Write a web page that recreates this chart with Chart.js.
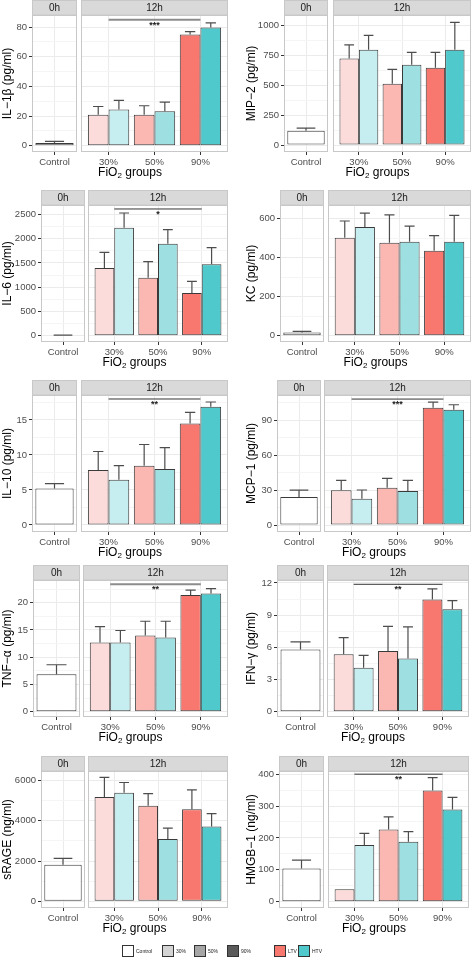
<!DOCTYPE html>
<html lang="en">
<head>
<meta charset="UTF-8" />
<title>Lung mediators by FiO2 group</title>
<script src="https://cdn.jsdelivr.net/npm/chart.js"></script>
<style>
  body { margin: 0; background: #fff; font-family: "Liberation Sans", Arial, sans-serif; }
  #fig { position: relative; width: 472px; height: 959px; overflow: hidden; }
  #fig canvas { position: absolute; }
  .xtitle { position: absolute; font-size: 12px; line-height: 14px; color: #000; white-space: nowrap; transform: translateX(-50%); }
  .xtitle sub { font-size: 8px; line-height: 0; vertical-align: -2px; }
  .key { position: absolute; top: 945px; width: 10px; height: 10px; border: 1px solid #333; }
  .keytxt { position: absolute; top: 945px; font-size: 5px; line-height: 12px; color: #1a1a1a; white-space: nowrap; }
</style>
</head>
<body>
<div id="fig"></div>
<script>
// ---- data ----
const ctrlLabel = ["Control"];
const groups = ["30%", "50%", "90%"];
const legendLabels = ["Control", "30%", "50%", "90%", "LTV", "HTV"];

// IL-1β (pg/ml)
const il1bCtrl = [1.8], il1bCtrlUp = [2.9];
const il1bLTV = [21, 21, 75], il1bLTVUp = [26.5, 27, 77];
const il1bHTV = [24.5, 23.2, 79.8], il1bHTVUp = [30.6, 29.5, 82.9];
const il1bTicks = [0, 20, 40, 60, 80];

// MIP-2 (pg/ml)
const mip2Ctrl = [119], mip2CtrlUp = [141];
const mip2LTV = [723, 512, 645], mip2LTVUp = [836, 632, 774];
const mip2HTV = [795, 670, 795], mip2HTVUp = [916, 774, 1024];
const mip2Ticks = [0, 250, 500, 750, 1000];

// IL-6 (pg/ml)
const il6Ctrl = [8], il6CtrlUp = [12];
const il6LTV = [1395, 1195, 880], il6LTVUp = [1718, 1525, 1120];
const il6HTV = [2225, 1896, 1471], il6HTVUp = [2528, 2184, 1813];
const il6Ticks = [0, 500, 1000, 1500, 2000, 2500];

// KC (pg/ml)
const kcCtrl = [17], kcCtrlUp = [22];
const kcLTV = [502, 477, 435], kcLTVUp = [588, 619, 513];
const kcHTV = [557, 482, 482], kcHTVUp = [628, 562, 617];
const kcTicks = [0, 200, 400, 600];

// IL-10 (pg/ml)
const il10Ctrl = [5.2], il10CtrlUp = [5.9];
const il10LTV = [7.86, 8.48, 14.5], il10LTVUp = [10.5, 11.5, 16.1];
const il10HTV = [6.48, 8.0, 16.9], il10HTVUp = [8.48, 11.05, 17.57];
const il10Ticks = [0, 5, 10, 15];

// MCP-1 (pg/ml)
const mcp1Ctrl = [24], mcp1CtrlUp = [30];
const mcp1LTV = [29.8, 32.1, 100.9], mcp1LTVUp = [38.4, 40.1, 105.7];
const mcp1HTV = [22.6, 29.2, 99.1], mcp1HTVUp = [30.1, 38.4, 103.4];
const mcp1Ticks = [0, 30, 60, 90];

// TNF-α (pg/ml)
const tnfCtrl = [6.86], tnfCtrlUp = [8.62];
const tnfLTV = [12.7, 14.0, 21.4], tnfLTVUp = [15.6, 16.6, 22.3];
const tnfHTV = [12.7, 13.6, 21.7], tnfHTVUp = [14.9, 16.6, 22.6];
const tnfTicks = [0, 5, 10, 15, 20];

// IFN-γ (pg/ml)
const ifnCtrl = [5.8], ifnCtrlUp = [6.5];
const ifnLTV = [5.35, 5.66, 10.45], ifnLTVUp = [6.9, 7.95, 11.45];
const ifnHTV = [4.1, 4.95, 9.55], ifnHTVUp = [5.25, 7.9, 10.35];
const ifnTicks = [0, 3, 6, 9, 12];

// sRAGE (ng/ml)
const srageCtrl = [1820], srageCtrlUp = [2135];
const srageLTV = [5185, 4750, 4570], srageLTVUp = [6150, 5350, 5535];
const srageHTV = [5385, 3100, 3720], srageHTVUp = [5900, 3635, 4350];
const srageTicks = [0, 2000, 4000, 6000];

// HMGB-1 (ng/ml)
const hmgbCtrl = [104], hmgbCtrlUp = [130];
const hmgbLTV = [39, 226, 349], hmgbLTVUp = [null, 266, 389];
const hmgbHTV = [178, 188, 289], hmgbHTVUp = [214, 220, 327];
const hmgbTicks = [0, 100, 200, 300, 400];

// ---- styling ----
const ltvColors = ["#FCDCDA", "#FBB8B3", "#F8786F"];
const htvColors = ["#C6EEF0", "#9EE0E2", "#4FC9CB"];
const legendColors = ["#FFFFFF", "#D4D4D4", "#A6A6A6", "#5A5A5A", "#F8786F", "#4FC9CB"];
const legendX = [122, 162, 194, 227, 274, 298];

const rowTop = [15, 205, 395, 580, 771];
const PLOT_H = 137, STRIP_H = 15, AXIS_H = 15;

// layout of each panel: facet edges in page pixels
const panels = [
  { title: "IL−1β (pg/ml)", row: 0, ox: 0, f0: [32, 77], f1: [81, 228], min: -4.2, max: 88.2, ticks: il1bTicks,
    ctrl: il1bCtrl, ctrlUp: il1bCtrlUp, ltv: il1bLTV, ltvUp: il1bLTVUp, htv: il1bHTV, htvUp: il1bHTVUp,
    sig: { y: 85, text: "***", color: "#8C8C8C", width: 2 } },
  { title: "MIP−2 (pg/ml)", row: 0, ox: 236, f0: [284, 328], f1: [333, 471], min: -58, max: 1086, ticks: mip2Ticks,
    ctrl: mip2Ctrl, ctrlUp: mip2CtrlUp, ltv: mip2LTV, ltvUp: mip2LTVUp, htv: mip2HTV, htvUp: mip2HTVUp },
  { title: "IL−6 (pg/ml)", row: 1, ox: 0, f0: [41, 85], f1: [88, 228], min: -130, max: 2693, ticks: il6Ticks,
    ctrl: il6Ctrl, ctrlUp: il6CtrlUp, ltv: il6LTV, ltvUp: il6LTVUp, htv: il6HTV, htvUp: il6HTVUp,
    sig: { y: 2611, text: "*", color: "#333", width: 1 } },
  { title: "KC (pg/ml)", row: 1, ox: 236, f0: [280, 324], f1: [328, 471], min: -32, max: 670, ticks: kcTicks,
    ctrl: kcCtrl, ctrlUp: kcCtrlUp, ltv: kcLTV, ltvUp: kcLTVUp, htv: kcHTV, htvUp: kcHTVUp },
  { title: "IL−10 (pg/ml)", row: 2, ox: 0, f0: [32, 77], f1: [81, 228], min: -1.0, max: 18.57, ticks: il10Ticks,
    ctrl: il10Ctrl, ctrlUp: il10CtrlUp, ltv: il10LTV, ltvUp: il10LTVUp, htv: il10HTV, htvUp: il10HTVUp,
    sig: { y: 18, text: "**", color: "#333", width: 1 } },
  { title: "MCP−1 (pg/ml)", row: 2, ox: 236, f0: [277, 321], f1: [324, 471], min: -6, max: 111.8, ticks: mcp1Ticks,
    ctrl: mcp1Ctrl, ctrlUp: mcp1CtrlUp, ltv: mcp1LTV, ltvUp: mcp1LTVUp, htv: mcp1HTV, htvUp: mcp1HTVUp,
    sig: { y: 108.3, text: "***", color: "#333", width: 1 } },
  { title: "TNF−α (pg/ml)", row: 3, ox: 0, f0: [33, 80], f1: [83, 228], min: -0.97, max: 24.17, ticks: tnfTicks,
    ctrl: tnfCtrl, ctrlUp: tnfCtrlUp, ltv: tnfLTV, ltvUp: tnfLTVUp, htv: tnfHTV, htvUp: tnfHTVUp,
    sig: { y: 23.4, text: "**", color: "#8C8C8C", width: 2 } },
  { title: "IFN−γ (pg/ml)", row: 3, ox: 236, f0: [277, 324], f1: [327, 469], min: -0.49, max: 12.27, ticks: ifnTicks,
    ctrl: ifnCtrl, ctrlUp: ifnCtrlUp, ltv: ifnLTV, ltvUp: ifnLTVUp, htv: ifnHTV, htvUp: ifnHTVUp,
    sig: { y: 11.87, text: "**", color: "#333", width: 1 } },
  { title: "sRAGE (ng/ml)", row: 4, ox: 0, f0: [41, 85], f1: [88, 228], min: -330, max: 6470, ticks: srageTicks,
    ctrl: srageCtrl, ctrlUp: srageCtrlUp, ltv: srageLTV, ltvUp: srageLTVUp, htv: srageHTV, htvUp: srageHTVUp },
  { title: "HMGB−1 (ng/ml)", row: 4, ox: 236, f0: [279, 324], f1: [328, 469], min: -20, max: 410, ticks: hmgbTicks,
    ctrl: hmgbCtrl, ctrlUp: hmgbCtrlUp, ltv: hmgbLTV, ltvUp: hmgbLTVUp, htv: hmgbHTV, htvUp: hmgbHTVUp,
    sig: { y: 400, text: "**", color: "#333", width: 1 } },
];

Chart.defaults.font.family = '"Liberation Sans", Arial, sans-serif';
Chart.defaults.animation = false;

const fig = document.getElementById("fig");

// strip on top + light panel border
const panelDeco = {
  id: "panelDeco",
  afterDraw(chart, args, opts) {
    const { ctx, chartArea: a } = chart;
    ctx.save();
    ctx.lineWidth = 1;
    ctx.strokeStyle = "#C8C8C8";
    ctx.strokeRect(a.left + 0.5, a.top + 0.5, a.width - 1, a.height - 1);
    ctx.fillStyle = "#D9D9D9";
    ctx.fillRect(a.left, 0, a.width, a.top);
    ctx.strokeRect(a.left + 0.5, 0.5, a.width - 1, a.top - 0.5);
    ctx.fillStyle = "#1A1A1A";
    ctx.font = '10px "Liberation Sans", Arial, sans-serif';
    ctx.textAlign = "center";
    ctx.textBaseline = "middle";
    ctx.fillText(opts.label, (a.left + a.right) / 2, a.top / 2 + 0.5);
    ctx.restore();
  },
};

// upper error bars, read from dataset.upper
const errBars = {
  id: "errBars",
  afterDatasetsDraw(chart) {
    const { ctx } = chart;
    const y = chart.scales.y;
    ctx.save();
    ctx.strokeStyle = "#4D4D4D";
    ctx.lineWidth = 1.2;
    chart.data.datasets.forEach((ds, i) => {
      chart.getDatasetMeta(i).data.forEach((bar, j) => {
        const u = ds.upper[j];
        if (u == null) return;
        const yu = y.getPixelForValue(u);
        const half = bar.width / 4;
        ctx.beginPath();
        ctx.moveTo(bar.x, bar.y);
        ctx.lineTo(bar.x, yu);
        ctx.moveTo(bar.x - half, yu);
        ctx.lineTo(bar.x + half, yu);
        ctx.stroke();
      });
    });
    ctx.restore();
  },
};

// significance bracket across 30%..90%
const sigBar = {
  id: "sigBar",
  afterDatasetsDraw(chart, args, opts) {
    const s = opts.sig;
    if (!s) return;
    const { ctx } = chart;
    const x = chart.scales.x, y = chart.scales.y;
    const yy = y.getPixelForValue(s.y);
    ctx.save();
    ctx.strokeStyle = s.color;
    ctx.lineWidth = s.width;
    ctx.beginPath();
    ctx.moveTo(x.getPixelForValue(0), yy);
    ctx.lineTo(x.getPixelForValue(2), yy);
    ctx.stroke();
    ctx.fillStyle = "#1A1A1A";
    ctx.font = 'bold 9px "Liberation Sans", Arial, sans-serif';
    ctx.textAlign = "center";
    ctx.textBaseline = "top";
    ctx.fillText(s.text, x.getPixelForValue(1), yy + 1);
    ctx.restore();
  },
};

function tickList(p) {
  const step = p.ticks[1] - p.ticks[0];
  const all = [];
  p.ticks.forEach((v) => {
    all.push(v);
    if (v + step / 2 <= p.max) all.push(v + step / 2);
  });
  return all;
}

function yScale(p, withLabels) {
  const major = (v) => p.ticks.includes(v);
  return {
    min: p.min,
    max: p.max,
    afterBuildTicks: (ax) => { ax.ticks = tickList(p).map((v) => ({ value: v })); },
    afterFit: (ax) => { ax.width = withLabels ? p.f0[0] - p.ox : 0; },
    border: { display: false },
    grid: {
      color: (c) => (c.tick && major(c.tick.value) ? "#EBEBEB" : "#F5F5F5"),
      tickColor: (c) => (c.tick && major(c.tick.value) ? "#333" : "rgba(0,0,0,0)"),
      tickLength: 3,
      drawTicks: withLabels,
    },
    ticks: {
      display: withLabels,
      autoSkip: false,
      color: "#4D4D4D",
      font: { size: 9.5 },
      padding: 2,
      callback: (v) => (major(v) ? String(v) : ""),
    },
    title: {
      display: withLabels,
      text: p.title,
      color: "#000",
      font: { size: 12 },
      // right-hand column: title sits ~15px in from the column edge
      padding: { top: p.ox ? 8 : 0, bottom: 0 },
    },
  };
}

function xScale(labels, ggSpacing) {
  return {
    type: "category",
    labels: labels,
    offset: true,
    afterBuildTicks: (ax) => {
      // ggplot-like discrete expansion (0.6 units on each side)
      if (ggSpacing) { ax._startValue = -0.6; ax._valueRange = labels.length + 0.2; }
    },
    afterFit: (ax) => { ax.height = AXIS_H; },
    border: { display: false },
    grid: { offset: false, color: "#EBEBEB", tickColor: "#333", tickLength: 3 },
    ticks: { color: "#4D4D4D", font: { size: 9.5 }, padding: 2, maxRotation: 0 },
  };
}

function addCanvas(left, top, w, h) {
  const c = document.createElement("canvas");
  c.width = w;
  c.height = h;
  c.style.left = left + "px";
  c.style.top = top + "px";
  fig.appendChild(c);
  return c;
}

panels.forEach((p) => {
  const top = rowTop[p.row] - STRIP_H;
  const h = STRIP_H + PLOT_H + AXIS_H;

  // 0h facet (carries the y axis)
  const c0 = addCanvas(p.ox, top, p.f0[1] + 1 - p.ox, h);
  new Chart(c0, {
    type: "bar",
    data: {
      labels: ctrlLabel,
      datasets: [{
        data: p.ctrl, upper: p.ctrlUp,
        backgroundColor: "#FFFFFF", borderColor: "#3A3A3A", borderWidth: 1, borderSkipped: false,
        categoryPercentage: 0.85, barPercentage: 1,
      }],
    },
    options: {
      responsive: false,
      layout: { padding: { top: STRIP_H, left: 0, right: 1, bottom: 0 } },
      plugins: { legend: { display: false }, tooltip: { enabled: false }, panelDeco: { label: "0h" }, sigBar: {} },
      scales: { x: xScale(ctrlLabel, false), y: yScale(p, true) },
    },
    plugins: [panelDeco, errBars, sigBar],
  });

  // 12h facet
  const c1 = addCanvas(p.f1[0] - 1, top, p.f1[1] - p.f1[0] + 2, h);
  new Chart(c1, {
    type: "bar",
    data: {
      labels: groups,
      datasets: [
        { label: "LTV", data: p.ltv, upper: p.ltvUp, backgroundColor: ltvColors,
          borderColor: "#3A3A3A", borderWidth: 1, borderSkipped: false, categoryPercentage: 0.9, barPercentage: 1 },
        { label: "HTV", data: p.htv, upper: p.htvUp, backgroundColor: htvColors,
          borderColor: "#3A3A3A", borderWidth: 1, borderSkipped: false, categoryPercentage: 0.9, barPercentage: 1 },
      ],
    },
    options: {
      responsive: false,
      layout: { padding: { top: STRIP_H, left: 1, right: 1, bottom: 0 } },
      plugins: { legend: { display: false }, tooltip: { enabled: false }, panelDeco: { label: "12h" }, sigBar: { sig: p.sig } },
      scales: { x: xScale(groups, true), y: yScale(p, false) },
    },
    plugins: [panelDeco, errBars, sigBar],
  });

  const t = document.createElement("div");
  t.className = "xtitle";
  t.innerHTML = "FiO<sub>2</sub> groups";
  t.style.left = (p.f0[0] + p.f1[1]) / 2 + "px";
  t.style.top = rowTop[p.row] + PLOT_H + 13 + "px";
  fig.appendChild(t);
});

// legend
legendLabels.forEach((lab, i) => {
  const k = document.createElement("div");
  k.className = "key";
  k.style.left = legendX[i] + "px";
  k.style.background = legendColors[i];
  fig.appendChild(k);
  const s = document.createElement("div");
  s.className = "keytxt";
  s.style.left = legendX[i] + 14 + "px";
  s.textContent = lab;
  fig.appendChild(s);
});
</script>
</body>
</html>
